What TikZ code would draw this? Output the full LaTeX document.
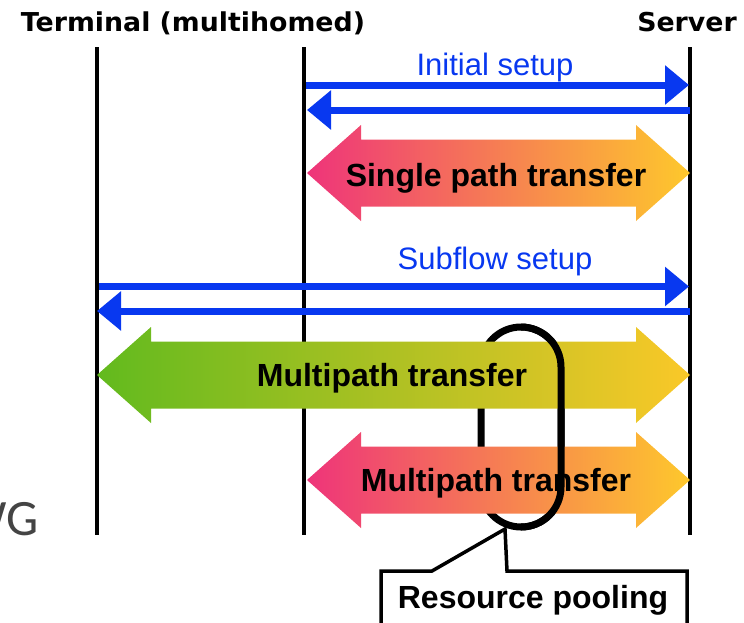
\documentclass[tikz,border=0pt]{standalone}
\usepackage{fontspec}
\setmainfont{Liberation Sans}
\newfontfamily\headfamily{DejaVu Sans}
\newfontfamily\wgfamily{Carlito}
\usetikzlibrary{arrows.meta,calc}

\definecolor{msgblue}{RGB}{8,56,240}
\definecolor{sppink}{RGB}{238,52,122}
\definecolor{spmid}{RGB}{246,148,98}
\definecolor{spyellow}{RGB}{254,200,44}
\definecolor{mpgreen}{RGB}{98,186,30}
\definecolor{mpyellow}{RGB}{250,200,40}
\definecolor{wggray}{RGB}{68,68,68}

\tikzset{
  lifeline/.style={line width=4pt},
  msg/.style={draw=msgblue, line width=7pt, -{Triangle[length=24pt,width=38pt]}},
  msgtext/.style={text=msgblue, font=\fontsize{31}{36}\selectfont, anchor=base, inner sep=0pt},
  bigtext/.style={font=\bfseries\fontsize{32}{38}\selectfont, anchor=base, inner sep=0pt},
  headtext/.style={font=\headfamily\bfseries\fontsize{26}{30}\selectfont, anchor=base, inner sep=0pt},
  pinkshade/.style={left color=sppink, middle color=spmid, right color=spyellow},
  greenshade/.style={left color=mpgreen, right color=mpyellow},
  pooloval/.style={draw, line width=7pt, rounded corners=40pt, minimum width=80pt,
    minimum height=200pt, inner sep=0pt, outer sep=0pt},
}

% big double arrow between two end points
\newcommand{\transferarrow}[3]{%
  \shade[#3] (#1) -- ++(54,-48) -- ++(0,14.5) -- ($(#2)+(-54,-33.5)$)
    -- ++(0,-14.5) -- (#2) -- ++(-54,48) -- ++(0,-14.5)
    -- ($(#1)+(54,33.5)$) -- ++(0,14.5) -- cycle;}

\begin{document}
\begin{tikzpicture}[x=1pt,y=-1pt]
    \useasboundingbox (0,0) rectangle (744,622);

    % lifelines
    \coordinate (if1top) at (97,47);
    \coordinate (if1bot) at (97,535);
    \coordinate (if2top) at (304,47);
    \coordinate (if2bot) at (304,535);
    \coordinate (srvtop) at (690,47);
    \coordinate (srvbot) at (690,535);
    \draw[lifeline] (if1top) -- (if1bot);
    \draw[lifeline] (if2top) -- (if2bot);
    \draw[lifeline] (srvtop) -- (srvbot);

    \node[headtext] (term) at (193,31) {\scalebox{1.03}[1]{Terminal (multihomed)}};
    \node[headtext] (server) at (687,31) {\scalebox{1.03}[1]{Server}};

    % initial setup
    \node[msgtext] (initial) at (495,75) {Initial setup};
    \coordinate (is1a) at (306,85);
    \coordinate (is1b) at (689,85);
    \coordinate (is2a) at (307,110);
    \coordinate (is2b) at (690,110);
    \draw[msg] (is1a) -- (is1b);
    \draw[msg] (is2b) -- (is2a);

    % single path
    \coordinate (spl) at (307,173);
    \coordinate (spr) at (690,173);
    \transferarrow{spl}{spr}{pinkshade}
    \node[bigtext] (single) at (496,186) {Single path transfer};

    % subflow setup
    \node[msgtext] (subflow) at (495,269) {Subflow setup};
    \coordinate (sf1a) at (99,286.5);
    \coordinate (sf1b) at (689,286.5);
    \coordinate (sf2a) at (97,311);
    \coordinate (sf2b) at (690,311);
    \draw[msg] (sf1a) -- (sf1b);
    \draw[msg] (sf2b) -- (sf2a);

    % resource pooling ring, back half
    \node[pooloval] (pool) at (521,427) {};

    % multipath
    \coordinate (mpl) at (97,375);
    \coordinate (mpr) at (690,375);
    \transferarrow{mpl}{mpr}{greenshade}
    \node[bigtext] (multi1) at (392,386) {Multipath transfer};
    \coordinate (mql) at (307,480);
    \coordinate (mqr) at (690,480);
    \transferarrow{mql}{mqr}{pinkshade}
    \node[bigtext] (multi2) at (496,491) {Multipath transfer};

    % ring, front half
    \begin{scope}
        \clip (521,300) rectangle (590,560);
        \node[pooloval] at (pool.center) {};
    \end{scope}

    % callout
    \coordinate (tip) at (505,529);
    \coordinate (boxbl) at (381,650);
    \coordinate (boxtl) at (381,571);
    \coordinate (ptra) at (432,571);
    \coordinate (ptrb) at (507,571);
    \coordinate (boxtr) at (687,571);
    \coordinate (boxbr) at (687,650);
    \draw[line width=3.5pt, fill=white] (boxbl) -- (boxtl) -- (ptra) -- (tip)
        -- (ptrb) -- (boxtr) -- (boxbr);
    \node[bigtext] (pooling) at (533,608) {Resource pooling};

    \node[font=\wgfamily\fontsize{51}{60}\selectfont, text=wggray, anchor=base east,
        inner sep=0pt] (wg) at (39,535) {WG};
\end{tikzpicture}
\end{document}
